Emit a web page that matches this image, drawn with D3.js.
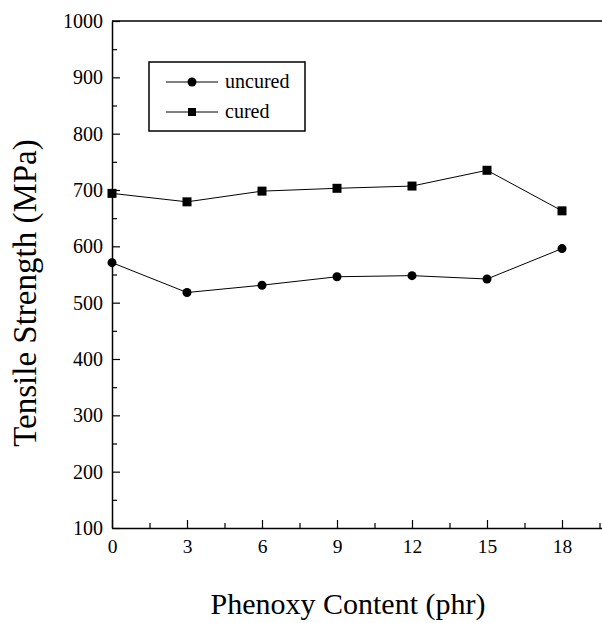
<!DOCTYPE html>
<html>
<head>
<meta charset="utf-8">
<script src="https://cdn.jsdelivr.net/npm/d3@7"></script>
<style>
  body { margin: 0; background: #fff; }
</style>
</head>
<body>
<svg id="chart"></svg>
<script>
// data
var phenoxy = [0, 3, 6, 9, 12, 15, 18];
var uncured = [571, 518, 531, 546, 548, 542, 596];
var cured = [694, 679, 698, 703, 707, 735, 663];
var xTicks = [0, 3, 6, 9, 12, 15, 18];
var yTicks = [100, 200, 300, 400, 500, 600, 700, 800, 900, 1000];
var seriesNames = ["uncured", "cured"];

var serif = "'Liberation Serif', 'Times New Roman', Times, serif";

var width = 602, height = 623;
var margin = {top: 21, left: 112, bottom: 95, right: -10};
var plotW = width - margin.left - margin.right;
var plotH = height - margin.top - margin.bottom;

var svg = d3.select("#chart")
    .attr("width", width)
    .attr("height", height)
    .attr("font-family", serif);

var g = svg.append("g")
    .attr("transform", "translate(" + margin.left + "," + margin.top + ")");

var x = d3.scaleLinear().domain([0, 20]).range([0, plotW]);
var y = d3.scaleLinear().domain([100, 1000]).range([plotH, 0]);

// minor ticks
g.append("g")
    .attr("transform", "translate(0," + plotH + ")")
    .call(d3.axisBottom(x).tickValues(d3.range(1.5, 20, 3)).tickSize(-5).tickFormat(""))
    .call(function (s) { s.select(".domain").remove(); });
g.append("g")
    .call(d3.axisLeft(y).tickValues(d3.range(150, 1000, 100)).tickSize(-5).tickFormat(""))
    .call(function (s) { s.select(".domain").remove(); });

// major axes
var xAxis = g.append("g")
    .attr("class", "xAxisG")
    .attr("transform", "translate(0," + plotH + ")")
    .call(d3.axisBottom(x).tickValues(xTicks).tickFormat(d3.format("d"))
        .tickSizeInner(-8).tickSizeOuter(0).tickPadding(11));
xAxis.attr("font-family", serif);
xAxis.selectAll("text").attr("font-size", "19.5px").attr("dy", "0.71em");

var yAxis = g.append("g")
    .attr("class", "yAxisG")
    .call(d3.axisLeft(y).tickValues(yTicks).tickFormat(d3.format("d"))
        .tickSizeInner(-8).tickSizeOuter(0).tickPadding(9));
yAxis.attr("font-family", serif);
yAxis.selectAll("text").attr("font-size", "20px");

svg.selectAll(".domain").attr("stroke-width", 1.5);
svg.selectAll(".tick line").attr("stroke-width", 1.2);

// top frame line
g.append("line")
    .attr("x1", 0).attr("x2", plotW)
    .attr("y1", 0).attr("y2", 0)
    .attr("stroke", "#000").attr("stroke-width", 1.5);

var line = d3.line()
    .x(function (d) { return x(d[0]); })
    .y(function (d) { return y(d[1]); });

var sets = [d3.zip(phenoxy, uncured), d3.zip(phenoxy, cured)];

sets.forEach(function (pts) {
    g.append("path")
        .datum(pts)
        .attr("fill", "none")
        .attr("stroke", "#000")
        .attr("stroke-width", 1)
        .attr("d", line);
});

g.selectAll(".dotU")
    .data(sets[0])
    .enter().append("circle")
    .attr("cx", function (d) { return x(d[0]); })
    .attr("cy", function (d) { return y(d[1]); })
    .attr("r", 4.5)
    .attr("fill", "#000");

g.selectAll(".dotC")
    .data(sets[1])
    .enter().append("rect")
    .attr("x", function (d) { return x(d[0]) - 4.5; })
    .attr("y", function (d) { return y(d[1]) - 4.5; })
    .attr("width", 9)
    .attr("height", 9)
    .attr("fill", "#000");

// legend
var legend = svg.append("g").attr("transform", "translate(149,62)");
legend.append("rect")
    .attr("width", 156).attr("height", 69)
    .attr("fill", "none").attr("stroke", "#000").attr("stroke-width", 1.5);

seriesNames.forEach(function (name, i) {
    var ly = 20 + i * 30;
    legend.append("line")
        .attr("x1", 17).attr("x2", 69)
        .attr("y1", ly).attr("y2", ly)
        .attr("stroke", "#000").attr("stroke-width", 1);
    if (i === 0) {
        legend.append("circle").attr("cx", 43).attr("cy", ly).attr("r", 4.5).attr("fill", "#000");
    } else {
        legend.append("rect").attr("x", 39).attr("y", ly - 4).attr("width", 8).attr("height", 8).attr("fill", "#000");
    }
    legend.append("text")
        .attr("x", 76).attr("y", ly)
        .attr("dy", "0.32em")
        .attr("font-size", "20px")
        .text(name);
});

// axis titles
svg.append("text")
    .attr("transform", "translate(36,293) rotate(-90)")
    .attr("text-anchor", "middle")
    .attr("font-size", "33px")
    .text("Tensile Strength (MPa)");

svg.append("text")
    .attr("x", 348)
    .attr("y", 614)
    .attr("text-anchor", "middle")
    .attr("font-size", "30px")
    .text("Phenoxy Content (phr)");
</script>
</body>
</html>
